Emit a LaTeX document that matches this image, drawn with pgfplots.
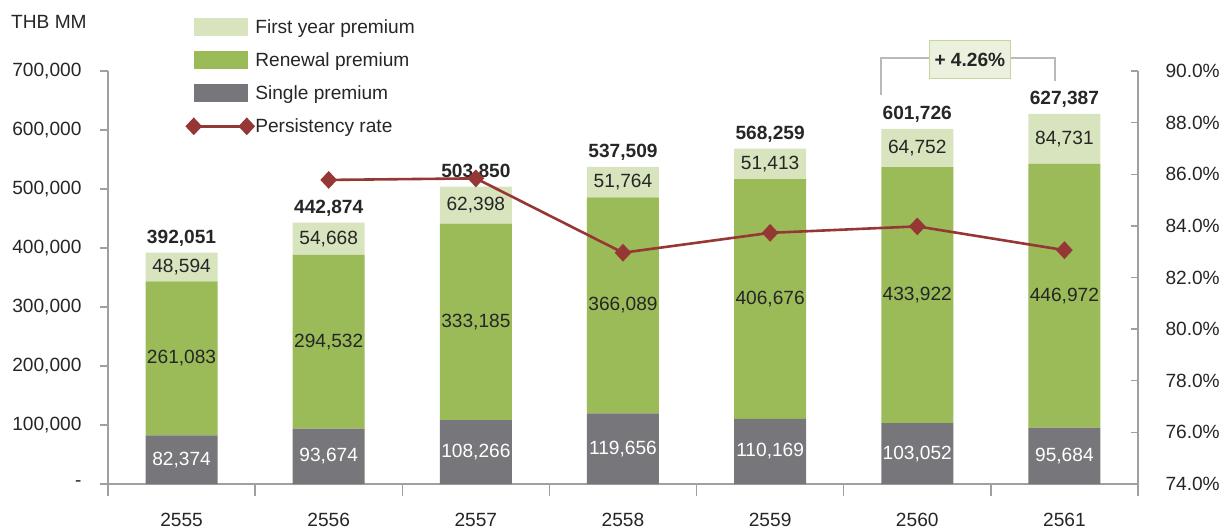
\documentclass[border=0pt]{standalone}
\usepackage{fontspec}
\setmainfont{Liberation Sans}
\usepackage{pgfplots}
\usepackage{pgfplotstable}
\pgfplotsset{compat=1.18}
\definecolor{firstc}{RGB}{215,228,189}
\definecolor{renc}{RGB}{155,187,89}
\definecolor{singc}{RGB}{119,119,123}
\definecolor{linec}{RGB}{149,55,53}
\definecolor{axisgray}{RGB}{160,160,160}
\definecolor{textc}{RGB}{38,38,38}
\definecolor{boxfill}{RGB}{235,241,222}
\definecolor{boxdraw}{RGB}{195,214,155}
\definecolor{brgray}{RGB}{185,185,185}
\pgfplotstableread{
x single renewal first total slab rlab flab tlab
0 82374 261083 48594 392051 82,374 261,083 48,594 392,051
1 93674 294532 54668 442874 93,674 294,532 54,668 442,874
2 108266 333185 62398 503850 108,266 333,185 62,398 503,850
3 119656 366089 51764 537509 119,656 366,089 51,764 537,509
4 110169 406676 51413 568259 110,169 406,676 51,413 568,259
5 103052 433922 64752 601726 103,052 433,922 64,752 601,726
6 95684 446972 84731 627387 95,684 446,972 84,731 627,387
}\premtable
\pgfplotstableread{
x rate
1 85.78
2 85.84
3 82.96
4 83.73
5 83.98
6 83.06
}\ratetable
\newcommand\fs{\fontsize{19.2}{23}\selectfont}
\pgfplotsset{base/.style={scale only axis, width=1030bp, height=413bp,
  xmin=-0.5, xmax=6.5, at={(0,0)}, anchor=south west, clip=false,
  tick label style={font=\fs, text=textc},
  /pgf/number format/assume math mode=true}}
\pgfplotsset{
  legfirst/.style={legend image code/.code={\fill[firstc] (0bp,-8.5bp) rectangle (53bp,8.5bp);}},
  legren/.style={legend image code/.code={\fill[renc] (0bp,-8.5bp) rectangle (53bp,8.5bp);}},
  legsing/.style={legend image code/.code={\fill[singc] (0bp,-8.5bp) rectangle (53bp,8.5bp);}},
  legline/.style={legend image code/.code={\draw[linec, line width=2.6bp, mark=diamond*, mark size=7bp, mark options={xscale=1.25, solid}] plot coordinates {(0bp,0bp) (53bp,0bp)};}},
}
\begin{document}
\begin{tikzpicture}[font=\fs]
\useasboundingbox (-108bp,-45bp) rectangle (1120bp,484bp);
% bars
\begin{axis}[base, ybar stacked, bar width=72bp, ymin=0, ymax=700000,
  axis x line*=bottom, axis y line*=left,
  x axis line style={-}, y axis line style={-},
  axis line style={draw=axisgray, line width=1.6bp},
  tick align=outside,
  xtick={0,...,6}, xticklabels={2555,2556,2557,2558,2559,2560,2561},
  major x tick style={draw=none},
  minor xtick={-0.5,0.5,...,6.5},
  minor tick length=12bp, major tick length=8bp,
  every tick/.style={draw=axisgray, line width=1.4bp},
  xticklabel style={yshift=-18bp},
  ytick={0,100000,200000,300000,400000,500000,600000,700000},
  yticklabels={-,{100,000},{200,000},{300,000},{400,000},{500,000},{600,000},{700,000}},
  scaled y ticks=false,
  yticklabel style={xshift=-15bp},
]
\addplot[fill=singc, draw=none] table[x=x, y=single] {\premtable};
\addplot[fill=renc, draw=none] table[x=x, y=renewal] {\premtable};
\addplot[fill=firstc, draw=none] table[x=x, y=first] {\premtable};
\end{axis}
% labels
\begin{axis}[base, hide axis, ymin=0, ymax=700000,
  nodes near coords, point meta=explicit symbolic,
  every node near coord/.append style={anchor=center, font=\fs, text=textc}]
\addplot[only marks, mark=none, every node near coord/.append style={text=white}]
  table[x=x, y expr=\thisrow{single}/2, meta=slab] {\premtable};
\addplot[only marks, mark=none]
  table[x=x, y expr=\thisrow{single}+\thisrow{renewal}/2, meta=rlab] {\premtable};
\addplot[only marks, mark=none]
  table[x=x, y expr=\thisrow{single}+\thisrow{renewal}+\thisrow{first}/2, meta=flab] {\premtable};
\addplot[only marks, mark=none, every node near coord/.append style={anchor=south, yshift=3bp, font=\fs\bfseries}]
  table[x=x, y=total, meta=tlab] {\premtable};
% bracket annotation
\draw[brgray, line width=1.8bp] (axis cs:4.753,659322) -- (axis cs:4.753,722542) -- (axis cs:5.08,722542);
\draw[brgray, line width=1.8bp] (axis cs:5.635,722542) -- (axis cs:5.936,722542) -- (axis cs:5.936,683560);
\draw[boxdraw, fill=boxfill, line width=1bp] (axis cs:5.08,687627) rectangle (axis cs:5.635,750847);
\node[font=\fs\bfseries, text=textc] at (axis cs:5.3575,719237) {+ 4.26\%};
\end{axis}
% line + right axis + legend
\begin{axis}[base, ymin=74, ymax=90,
  axis y line*=right, axis x line=none, y axis line style={-},
  axis line style={draw=axisgray, line width=1.6bp},
  tick align=inside, major tick length=7bp,
  every tick/.style={draw=axisgray, line width=1.4bp},
  ytick={74,76,...,90},
  yticklabel={\pgfmathprintnumber[fixed,fixed zerofill,precision=1]{\tick}\%},
  yticklabel style={xshift=24bp},
  legend style={at={(0.0767,1.1308)}, anchor=north west, draw=none, fill=none,
    font=\fs, text=textc, legend cell align=left, row sep=13.8bp, inner sep=0pt,
    nodes={inner sep=2bp}},
]
\addlegendimage{legfirst}
\addlegendentry{First year premium}
\addlegendimage{legren}
\addlegendentry{Renewal premium}
\addlegendimage{legsing}
\addlegendentry{Single premium}
\addplot[linec, line width=2.6bp, mark=diamond*, mark size=7bp,
  mark options={xscale=1.25, solid}, legline]
  table[x=x, y=rate] {\ratetable};
\addlegendentry{Persistency rate}
\end{axis}
\node[anchor=west, text=textc, inner sep=0pt] at (-97bp,462bp) {THB MM};
\end{tikzpicture}
\end{document}
